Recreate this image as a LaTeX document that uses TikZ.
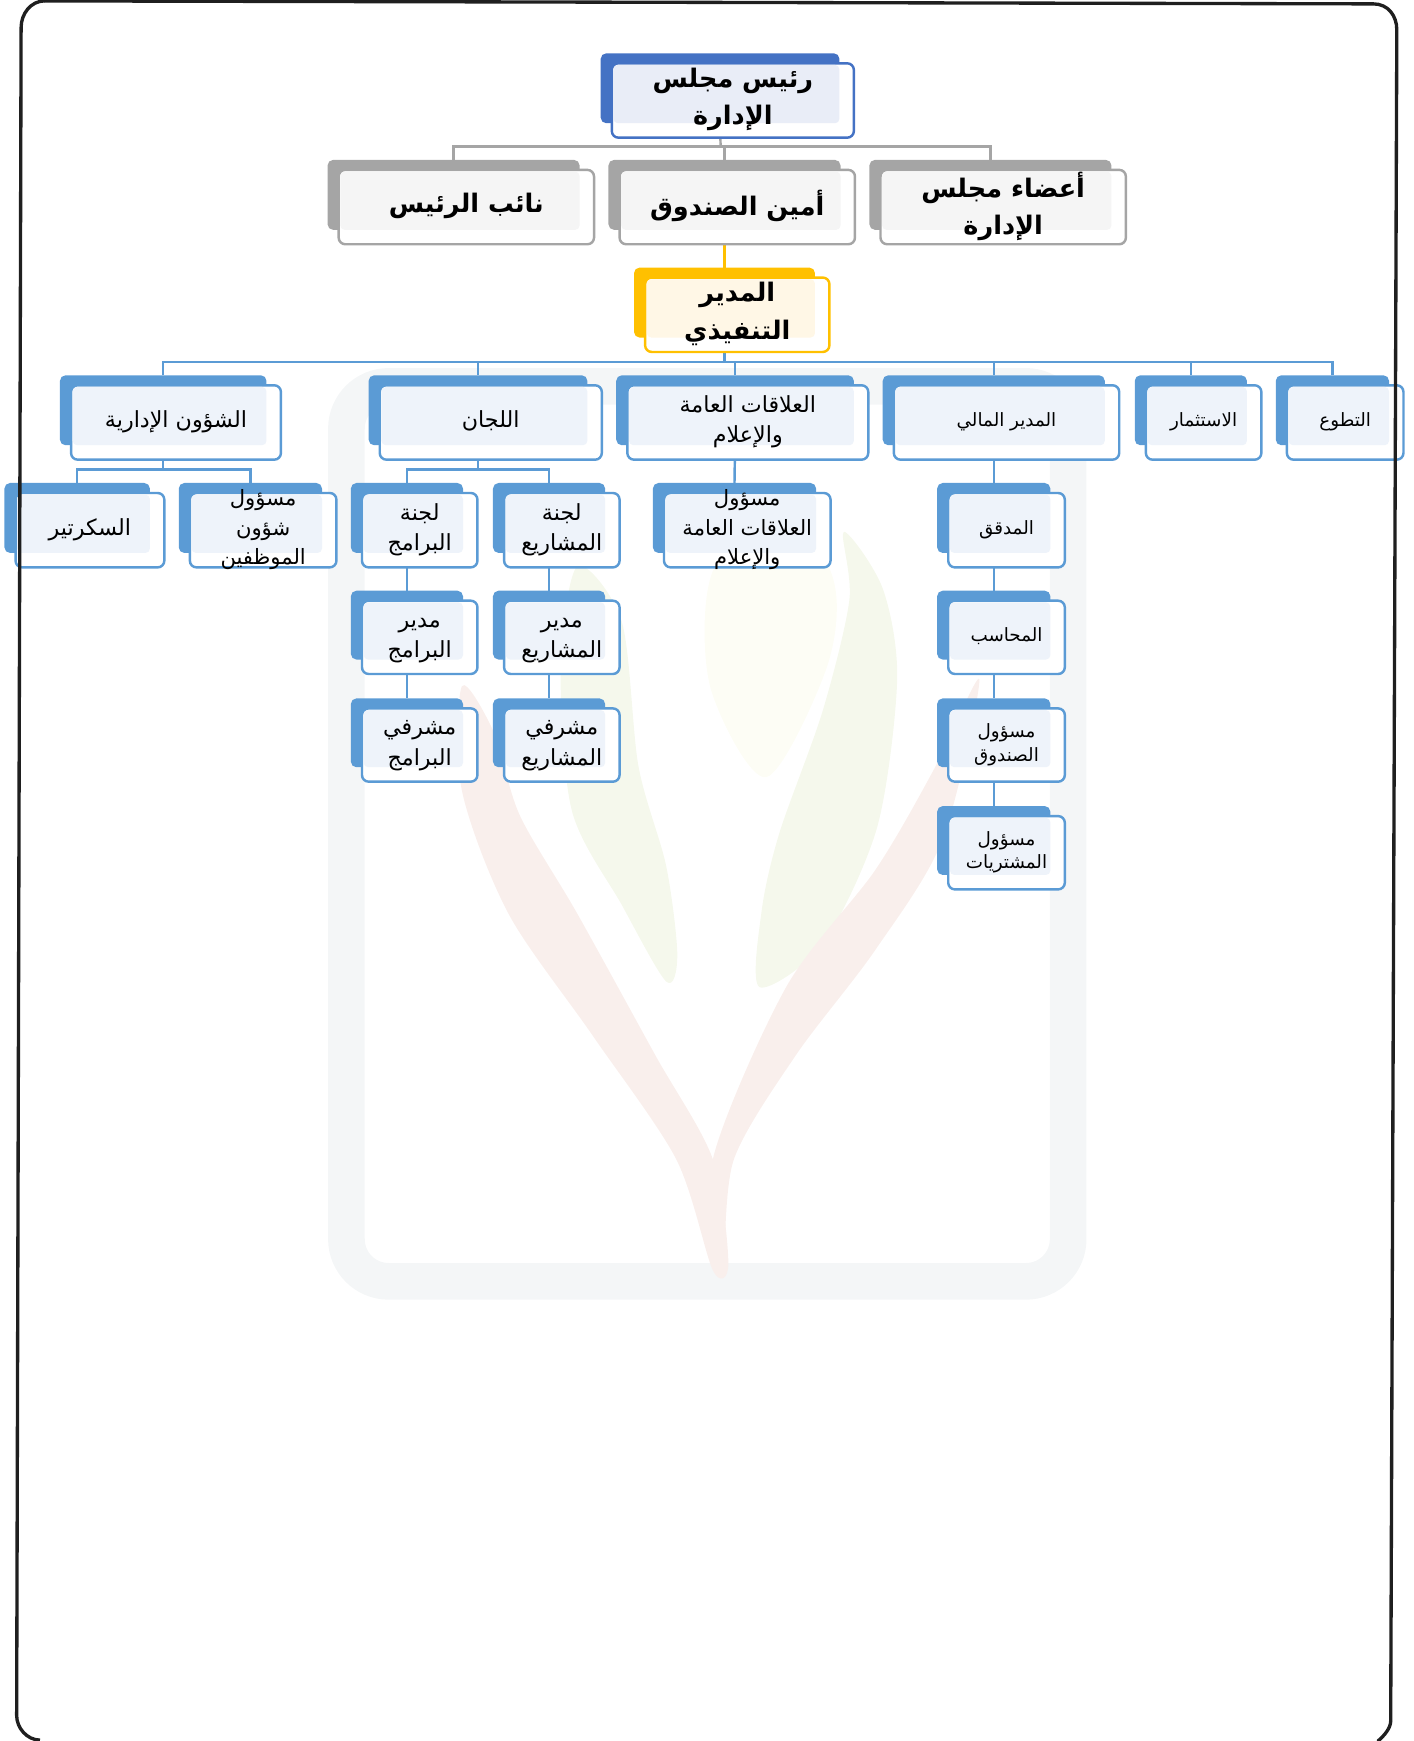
\documentclass[tikz,border=0pt]{standalone}
\usepackage{fontspec}
\usetikzlibrary{backgrounds}
\newfontfamily\arabicfont[Script=Arabic]{DejaVu Sans}
\TeXXeTstate=1
\lineskiplimit=-60pt
\definecolor{bluemain}{HTML}{5B9BD5}
\definecolor{bluelight}{HTML}{EEF3FA}
\definecolor{navymain}{HTML}{4472C4}
\definecolor{navylight}{HTML}{E9EDF7}
\definecolor{graymain}{HTML}{A5A5A5}
\definecolor{graylight}{HTML}{F5F5F5}
\definecolor{goldmain}{HTML}{FFC000}
\definecolor{goldlight}{HTML}{FFF7E6}
\definecolor{markframe}{HTML}{F4F6F7}
\definecolor{markred}{HTML}{F9EFEC}
\definecolor{markgreen}{HTML}{F5F8EC}
\definecolor{markpale}{HTML}{FDFDF5}
\tikzset{
  backbox/.style={fill=#1main, rounded corners=5pt, inner sep=0pt, outer sep=0pt},
  frontbox/.style={draw=#1main, fill=white, line width=2.2pt, rounded corners=6pt, inner sep=0pt, outer sep=0pt},
  linkline/.style={draw=#1main, line width=2.2pt},
  txtbold/.style={align=center, inner sep=0pt, font=\arabicfont\bfseries\fontsize{23}{33.5}\selectfont},
  txtbig/.style={align=center, inner sep=0pt, font=\arabicfont\fontsize{20}{27.5}\selectfont},
  txtwide/.style={align=center, inner sep=0pt, font=\arabicfont\fontsize{19}{26.5}\selectfont},
  txtsmall/.style={align=center, inner sep=0pt, font=\arabicfont\fontsize{16.5}{21.5}\selectfont},
  leafmark/.style={fill=#1, draw=none}
}
% one line of right-to-left text, with the same height on every line
\newcommand{\arl}[1]{\rule[-.35em]{0pt}{1.1em}\beginR #1\endR}
% colour, name, text style, left, top, right, bottom of the front box, text
\newcommand{\orgbox}[8][blue]{%
  \node[backbox=#1, minimum width=#6-#4-3, minimum height=#7-#5-4] (b#2) at ({(#4+#6-23)/2},{(#5+#7-22)/2}) {};
  \node[frontbox=#1, minimum width=#6-#4, minimum height=#7-#5] (f#2) at ({(#4+#6)/2},{(#5+#7)/2}) {};
  \fill[#1light, rounded corners=4pt] (#4+1.5,#5+1.5) rectangle (#6-13,#7-13);
  \node[#3] (t#2) at ({(#4+#6)/2},{(#5+#7)/2+0.5}) {#8};
}
\begin{document}
\begin{tikzpicture}[x=1pt,y=-1pt]
  \useasboundingbox (0,0) rectangle (1273,1568);

  % boxes of the board
  \orgbox[navy]{chair}{txtbold}{551}{57}{769}{124}{\arl{رئيس مجلس}\\\arl{الإدارة}}
  \orgbox[gray]{deputy}{txtbold}{305}{153}{535}{220}{\arl{نائب الرئيس}}
  \orgbox[gray]{treasurer}{txtbold}{558}{153}{770}{220}{\arl{أمين الصندوق}}
  \orgbox[gray]{members}{txtbold}{793}{153}{1014}{220}{\arl{أعضاء مجلس}\\\arl{الإدارة}}
  \orgbox[gold]{director}{txtbold}{581}{250}{747}{317}{\arl{المدير}\\\arl{التنفيذي}}

  % first row of departments
  \orgbox{admin}{txtbig}{64}{347}{253}{414}{\arl{الشؤون الإدارية}}
  \orgbox{committees}{txtbig}{342}{347}{542}{414}{\arl{اللجان}}
  \orgbox{relations}{txtbig}{565}{347}{782}{414}{\arl{العلاقات العامة}\\\arl{والإعلام}}
  \orgbox{finance}{txtsmall}{805}{347}{1008}{414}{\arl{المدير المالي}}
  \orgbox{invest}{txtsmall}{1032}{347}{1136}{414}{\arl{الاستثمار}}
  \orgbox{volunteer}{txtsmall}{1159}{347}{1264}{414}{\arl{التطوع}}

  % second row
  \orgbox{secretary}{txtbig}{14}{444}{148}{511}{\arl{السكرتير}}
  \orgbox{staff}{txtwide}{171}{444}{303}{511}{\arl{مسؤول}\\\arl{شؤون}\\\arl{الموظفين}}
  \orgbox{progcom}{txtbig}{326}{444}{430}{511}{\arl{لجنة}\\\arl{البرامج}}
  \orgbox{projcom}{txtbig}{454}{444}{558}{511}{\arl{لجنة}\\\arl{المشاريع}}
  \orgbox{prman}{txtwide}{598}{444}{748}{511}{\arl{مسؤول}\\\arl{العلاقات العامة}\\\arl{والإعلام}}
  \orgbox{auditor}{txtsmall}{854}{444}{959}{511}{\arl{المدقق}}

  % third row
  \orgbox{progman}{txtbig}{326}{541}{430}{607}{\arl{مدير}\\\arl{البرامج}}
  \orgbox{projman}{txtbig}{454}{541}{558}{607}{\arl{مدير}\\\arl{المشاريع}}
  \orgbox{accountant}{txtsmall}{854}{541}{959}{607}{\arl{المحاسب}}

  % fourth and fifth rows
  \orgbox{progsup}{txtbig}{326}{638}{430}{704}{\arl{مشرفي}\\\arl{البرامج}}
  \orgbox{projsup}{txtbig}{454}{638}{558}{704}{\arl{مشرفي}\\\arl{المشاريع}}
  \orgbox{cashier}{txtsmall}{854}{638}{959}{704}{\arl{مسؤول}\\\arl{الصندوق}}
  \orgbox{purchases}{txtsmall}{854}{735}{959}{801}{\arl{مسؤول}\\\arl{المشتريات}}

  % junction points of the branching lines
  \coordinate (busboard) at (649,132);
  \coordinate (busdirector) at (652.5,326);
  \coordinate (busadmin) at (147,423);
  \coordinate (buscommittees) at (430.5,423);

  \begin{scope}[on background layer]
    % faded logo behind the chart
    \draw[markframe, line width=33pt, rounded corners=38pt] (312,348) rectangle (962,1154);
    \fill[leafmark=markpale] plot[smooth cycle] coordinates {(640,520) (695,440) (750,520) (745,600) (690,700) (640,620)};
    \fill[leafmark=markgreen] plot[smooth cycle] coordinates {(760,479) (795,530) (808,612) (790,745) (741,850) (684,889) (686,820) (702,750) (741,640) (765,540)};
    \fill[leafmark=markgreen] plot[smooth cycle] coordinates {(505,600) (520,510) (560,560) (575,690) (600,780) (610,860) (600,884) (560,815) (515,730)};
    \fill[leafmark=markred] plot[smooth cycle] coordinates {(416,618) (416,712) (458,823) (534,933) (609,1044) (642,1144) (656,1138) (642,1044) (590,950) (520,823) (468,734) (445,660)};
    \fill[leafmark=markred] plot[smooth cycle] coordinates {(882,612) (849,756) (788,856) (717,950) (661,1044) (651,1138) (642,1044) (708,889) (788,784) (840,695)};

    % links of the board
    \draw[linkline=gray] (bchair.south) -- (busboard);
    \draw[linkline=gray] (bdeputy.north) |- (busboard);
    \draw[linkline=gray] (bmembers.north) |- (busboard);
    \draw[linkline=gray] (btreasurer.north) |- (busboard);
    \draw[linkline=gold] (btreasurer.south) -- (bdirector.north);

    % links of the departments
    \draw[linkline=blue] (bdirector.south) -- (busdirector);
    \draw[linkline=blue] (badmin.north) |- (busdirector);
    \draw[linkline=blue] (bcommittees.north) |- (busdirector);
    \draw[linkline=blue] (brelations.north) |- (busdirector);
    \draw[linkline=blue] (bfinance.north) |- (busdirector);
    \draw[linkline=blue] (binvest.north) |- (busdirector);
    \draw[linkline=blue] (bvolunteer.north) |- (busdirector);

    \draw[linkline=blue] (badmin.south) -- (busadmin);
    \draw[linkline=blue] (bsecretary.north) |- (busadmin);
    \draw[linkline=blue] (bstaff.north) |- (busadmin);
    \draw[linkline=blue] (bcommittees.south) -- (buscommittees);
    \draw[linkline=blue] (bprogcom.north) |- (buscommittees);
    \draw[linkline=blue] (bprojcom.north) |- (buscommittees);
    \draw[linkline=blue] (brelations.south) -- (bprman.north);
    \draw[linkline=blue] (bfinance.south) -- (bauditor.north);

    \draw[linkline=blue] (bprogcom.south) -- (bprogman.north);
    \draw[linkline=blue] (bprogman.south) -- (bprogsup.north);
    \draw[linkline=blue] (bprojcom.south) -- (bprojman.north);
    \draw[linkline=blue] (bprojman.south) -- (bprojsup.north);
    \draw[linkline=blue] (bauditor.south) -- (baccountant.north);
    \draw[linkline=blue] (baccountant.south) -- (bcashier.north);
    \draw[linkline=blue] (bcashier.south) -- (bpurchases.north);
  \end{scope}

  % outer frame, slightly skewed and cut by the page
  \draw[line width=3pt, draw=black!88, line cap=round] (40,0.8) -- (1237,3.5) .. controls (1250,3.5) and (1258,14) .. (1258,27) -- (1252.5,1550) .. controls (1252.5,1556) and (1247,1563) .. (1241,1568);
  \draw[line width=3pt, draw=black!88] (40,0.8) .. controls (28,1) and (19,12) .. (19,25) -- (15,1545) .. controls (15,1556) and (24,1567) .. (36,1567.2);
\end{tikzpicture}
\end{document}
